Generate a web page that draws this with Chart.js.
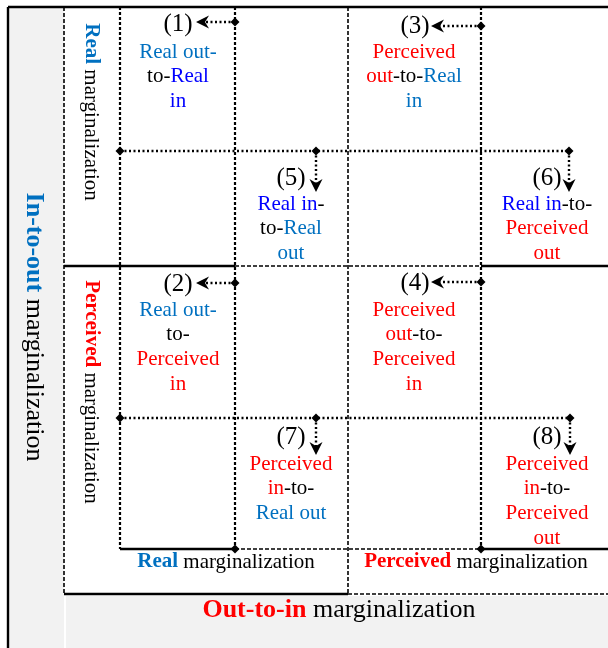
<!DOCTYPE html>
<html>
<head>
<meta charset="utf-8">
<script src="https://cdn.jsdelivr.net/npm/chart.js@4/dist/chart.umd.min.js"></script>
<style>
html, body { margin: 0; padding: 0; background: #fff; overflow: hidden; }
canvas { display: block; }
</style>
</head>
<body>
<canvas id="diagram" width="608" height="648"></canvas>
<script>
// one data unit = one pixel of the original figure
var xRange = [0, 608];
var yRange = [0, 648];

var palette = { real: '#0070C0', realIn: '#0000FF', perceived: '#FF0000', ink: '#000000' };

// shaded label panels [x0, y0, x1, y1]
var panels = [[8, 7, 64, 648], [66, 596, 608, 648]];

// frame and grid
var solidLines = [
    [[8, 7], [608, 7]],
    [[8, 7], [8, 648]],
    [[64, 594], [348, 594]],
    [[64, 266], [235, 266]],
    [[481, 266], [608, 266]],
    [[120, 549], [235, 549]],
    [[481, 549], [608, 549]]
];
var dashedLines = [
    [[64, 7], [64, 594]],
    [[348, 7], [348, 594]],
    [[235, 266], [481, 266]],
    [[348, 594], [608, 594]],
    [[235, 549], [481, 549]]
];
var boldDashedLines = [
    [[120, 7], [120, 549]],
    [[235, 7], [235, 549]],
    [[481, 7], [481, 549]]
];
var dottedLines = [
    [[120, 151], [569, 151]],
    [[120, 418], [570, 418]]
];
var junctions = [[120, 151], [120, 418], [235, 549], [481, 549]];

// arrows: diamond start -> tip
var arrows = [
    [[235, 22], [196, 22]],
    [[235, 283], [196, 283]],
    [[481, 26], [431, 26]],
    [[481, 282], [431, 282]],
    [[316, 151], [316, 192]],
    [[569, 151], [569, 192]],
    [[316, 418], [316, 455]],
    [[570, 418], [570, 455]]
];

var cellNumbers = ['(1)', '(2)', '(3)', '(4)', '(5)', '(6)', '(7)', '(8)'];
var numberAnchors = [[178, 24], [178, 284], [415, 26], [415, 283], [291, 178], [547, 178], [291, 437], [547, 437]];

// runs: [text, colour, bold]
var cellText = [
    [[['Real out-', 'real']], [['to-', 'ink'], ['Real', 'realIn']], [['in', 'realIn']]],
    [[['Real out-', 'real']], [['to-', 'ink']], [['Perceived', 'perceived']], [['in', 'perceived']]],
    [[['Perceived', 'perceived']], [['out', 'perceived'], ['-to-', 'ink'], ['Real', 'real']], [['in', 'real']]],
    [[['Perceived', 'perceived']], [['out', 'perceived'], ['-to-', 'ink']], [['Perceived', 'perceived']], [['in', 'perceived']]],
    [[['Real in', 'realIn'], ['-', 'ink']], [['to-', 'ink'], ['Real', 'real']], [['out', 'real']]],
    [[['Real in', 'realIn'], ['-to-', 'ink']], [['Perceived', 'perceived']], [['out', 'perceived']]],
    [[['Perceived', 'perceived']], [['in', 'perceived'], ['-to-', 'ink']], [['Real out', 'real']]],
    [[['Perceived', 'perceived']], [['in', 'perceived'], ['-to-', 'ink']], [['Perceived', 'perceived']], [['out', 'perceived']]]
];
var cellAnchors = [[178, 52], [178, 310], [414, 52], [414, 310], [291, 204], [547, 204], [291, 464], [547, 464]];

var axisLabels = [
    { runs: [['Real', 'real', true], [' marginalization', 'ink']], at: [91, 112], size: 21, rotate: true },
    { runs: [['Perceived', 'perceived', true], [' marginalization', 'ink']], at: [91, 392], size: 21, rotate: true },
    { runs: [['Real', 'real', true], [' marginalization', 'ink']], at: [226, 562], size: 21 },
    { runs: [['Perceived', 'perceived', true], [' marginalization', 'ink']], at: [476, 562], size: 21 },
    { runs: [['In-to-out', 'real', true], [' marginalization', 'ink']], at: [34, 327], size: 26, rotate: true },
    { runs: [['Out-to-in', 'perceived', true], [' marginalization', 'ink']], at: [339, 610], size: 26 }
];

var FONT = '"Liberation Serif", "Times New Roman", serif';
var LINE_STEP = 24.7;

function pts(list) {
    return list.map(function (p) { return { x: p[0], y: p[1] }; });
}

function lineSet(list, width, dash) {
    return {
        data: pts(list),
        showLine: true,
        borderColor: '#000',
        borderWidth: width,
        borderDash: dash,
        pointRadius: 0,
        fill: false,
        clip: false
    };
}

var datasets = [];
solidLines.forEach(function (l) { datasets.push(lineSet(l, 2.4, [])); });
dashedLines.forEach(function (l) { datasets.push(lineSet(l, 1.6, [4, 2])); });
boldDashedLines.forEach(function (l) { datasets.push(lineSet(l, 2.2, [3, 2])); });
dottedLines.forEach(function (l) { datasets.push(lineSet(l, 2.4, [2, 2.5])); });
arrows.forEach(function (a) {
    var s = a[0], t = a[1];
    var dx = Math.sign(t[0] - s[0]), dy = Math.sign(t[1] - s[1]);
    datasets.push(lineSet([s, [t[0] - dx * 8, t[1] - dy * 8]], 2.4, [2, 2.5]));
});
datasets.push({
    data: pts(junctions.concat(arrows.map(function (a) { return a[0]; }))),
    pointStyle: 'rectRot',
    pointRadius: 4.5,
    backgroundColor: '#000',
    borderWidth: 0,
    clip: false
});

function drawRuns(ctx, runs, cx, cy, size, rotate) {
    var total = 0, widths = [];
    runs.forEach(function (r) {
        ctx.font = (r[2] ? 'bold ' : '') + size + 'px ' + FONT;
        var w = ctx.measureText(r[0]).width;
        widths.push(w);
        total += w;
    });
    ctx.save();
    ctx.translate(cx, cy);
    if (rotate) ctx.rotate(Math.PI / 2);
    ctx.textBaseline = 'middle';
    ctx.textAlign = 'left';
    var x = -total / 2;
    runs.forEach(function (r, i) {
        ctx.font = (r[2] ? 'bold ' : '') + size + 'px ' + FONT;
        ctx.fillStyle = palette[r[1]];
        ctx.fillText(r[0], x, 0);
        x += widths[i];
    });
    ctx.restore();
}

var diagramPlugin = {
    id: 'diagram',
    beforeDatasetsDraw: function (chart) {
        var ctx = chart.ctx, sx = chart.scales.x, sy = chart.scales.y;
        ctx.save();
        ctx.fillStyle = '#f2f2f2';
        panels.forEach(function (p) {
            var x0 = sx.getPixelForValue(p[0]), y0 = sy.getPixelForValue(p[1]);
            var x1 = sx.getPixelForValue(p[2]), y1 = sy.getPixelForValue(p[3]);
            ctx.fillRect(x0, y0, x1 - x0, y1 - y0);
        });
        ctx.restore();
    },
    afterDatasetsDraw: function (chart) {
        var ctx = chart.ctx, sx = chart.scales.x, sy = chart.scales.y;

        // barbed arrow heads
        ctx.save();
        ctx.fillStyle = '#000';
        arrows.forEach(function (a) {
            var s = a[0], t = a[1];
            var tx = sx.getPixelForValue(t[0]), ty = sy.getPixelForValue(t[1]);
            var ang = Math.atan2(sy.getPixelForValue(t[1]) - sy.getPixelForValue(s[1]),
                                 sx.getPixelForValue(t[0]) - sx.getPixelForValue(s[0]));
            ctx.save();
            ctx.translate(tx, ty);
            ctx.rotate(ang);
            ctx.beginPath();
            ctx.moveTo(0, 0);
            ctx.lineTo(-13, -6.5);
            ctx.lineTo(-9, 0);
            ctx.lineTo(-13, 6.5);
            ctx.closePath();
            ctx.fill();
            ctx.restore();
        });
        ctx.restore();

        cellNumbers.forEach(function (n, i) {
            drawRuns(ctx, [[n, 'ink']], sx.getPixelForValue(numberAnchors[i][0]), sy.getPixelForValue(numberAnchors[i][1]), 25);
        });

        cellText.forEach(function (lines, i) {
            lines.forEach(function (runs, j) {
                drawRuns(ctx, runs, sx.getPixelForValue(cellAnchors[i][0]),
                    sy.getPixelForValue(cellAnchors[i][1] + j * LINE_STEP), 21);
            });
        });

        axisLabels.forEach(function (l) {
            drawRuns(ctx, l.runs, sx.getPixelForValue(l.at[0]), sy.getPixelForValue(l.at[1]), l.size, l.rotate);
        });
    }
};

var chart = new Chart(document.getElementById('diagram').getContext('2d'), {
    type: 'scatter',
    data: { datasets: datasets },
    options: {
        responsive: false,
        animation: false,
        devicePixelRatio: 1,
        events: [],
        layout: { padding: 0, autoPadding: false },
        scales: {
            x: { type: 'linear', min: xRange[0], max: xRange[1], display: false },
            y: { type: 'linear', min: yRange[0], max: yRange[1], reverse: true, display: false }
        },
        plugins: { legend: { display: false }, tooltip: { enabled: false } }
    },
    plugins: [diagramPlugin]
});
</script>
</body>
</html>
